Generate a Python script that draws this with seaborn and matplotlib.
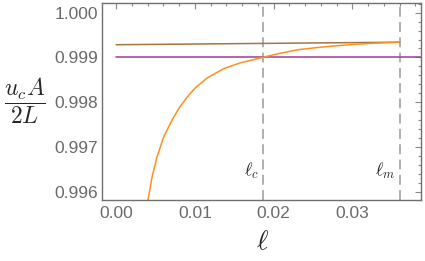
import matplotlib
matplotlib.use("Agg")
import matplotlib.pyplot as plt
from matplotlib.ticker import MultipleLocator, FormatStrFormatter
import seaborn as sns

# values
ell_curve = [0.00400, 0.00455, 0.00518, 0.00603, 0.00710, 0.00800, 0.00900, 0.01000,
             0.01155, 0.01367, 0.01580, 0.01860, 0.02050, 0.02300, 0.02550, 0.02730,
             0.03000, 0.03300, 0.03600]
ratio_curve = [0.99577, 0.99632, 0.99677, 0.99722, 0.99760, 0.99787, 0.99811, 0.99831,
               0.99854, 0.99875, 0.99888, 0.99900, 0.99908, 0.99917, 0.99922, 0.99925,
               0.99929, 0.99932, 0.99934]

ell_brown = [0.0, 0.036]
ratio_brown = [0.999284, 0.99934]

ell_purple = [0.0, 0.045]
ratio_purple = [0.999, 0.999]

ell_c = 0.0186
ell_m = 0.0360

sns.set_theme(style="white")
plt.rcParams['font.family'] = ['Liberation Sans', 'DejaVu Sans']
plt.rcParams['mathtext.fontset'] = 'cm'

fig = plt.figure(figsize=(4.25, 2.61), dpi=100)
ax = fig.add_axes([102 / 425, 61 / 261, 319 / 425, 197 / 261])

sns.lineplot(x=ell_purple, y=ratio_purple, ax=ax, color='#9E3A9E', lw=1.1)
sns.lineplot(x=ell_brown, y=ratio_brown, ax=ax, color='#A5743F', lw=1.1)
sns.lineplot(x=ell_curve, y=ratio_curve, ax=ax, color='#FF8F1F', lw=1.1)

for xv in [ell_c, ell_m]:
    ax.axvline(xv, color='#9a9a9a', lw=1.1, dashes=(6.5, 3.5), zorder=0)

ax.annotate(r'$\ell_c$', xy=(ell_c, 0.99647), xytext=(-3, 0), textcoords='offset points',
            ha='right', va='center', fontsize=13)
ax.annotate(r'$\ell_m$', xy=(ell_m, 0.99647), xytext=(-3, 0), textcoords='offset points',
            ha='right', va='center', fontsize=13)

ax.set_xlim(-0.0018, 0.0387)
ax.set_ylim(0.99581, 1.000217)

ax.xaxis.set_major_locator(MultipleLocator(0.01))
ax.xaxis.set_minor_locator(MultipleLocator(0.002))
ax.yaxis.set_major_locator(MultipleLocator(0.001))
ax.yaxis.set_minor_locator(MultipleLocator(0.0002))
ax.xaxis.set_major_formatter(FormatStrFormatter('%.2f'))
ax.yaxis.set_major_formatter(FormatStrFormatter('%.3f'))

ax.tick_params(which='both', direction='in', top=True, right=True, color='#888888',
               labelcolor='#6a6a6a', labelsize=12.5, width=0.8)
ax.tick_params(which='major', length=4.5)
ax.tick_params(which='minor', length=2.5)
ax.tick_params(axis='x', pad=4)
ax.tick_params(axis='y', pad=3)

for side, sp in ax.spines.items():
    sp.set_visible(True)
    sp.set_color('#707070')
    sp.set_linewidth(1.0)

ax.set_xlabel('')
ax.set_ylabel('')
fig.text(25 / 425, 1 - 101 / 261, r'$\dfrac{u_cA}{2L}$', ha='center', va='center', fontsize=17)
fig.text(262 / 425, 1 - 242 / 261, r'$\ell$', ha='center', va='center', fontsize=20)

fig.savefig('out.png', dpi=100, facecolor='white')
